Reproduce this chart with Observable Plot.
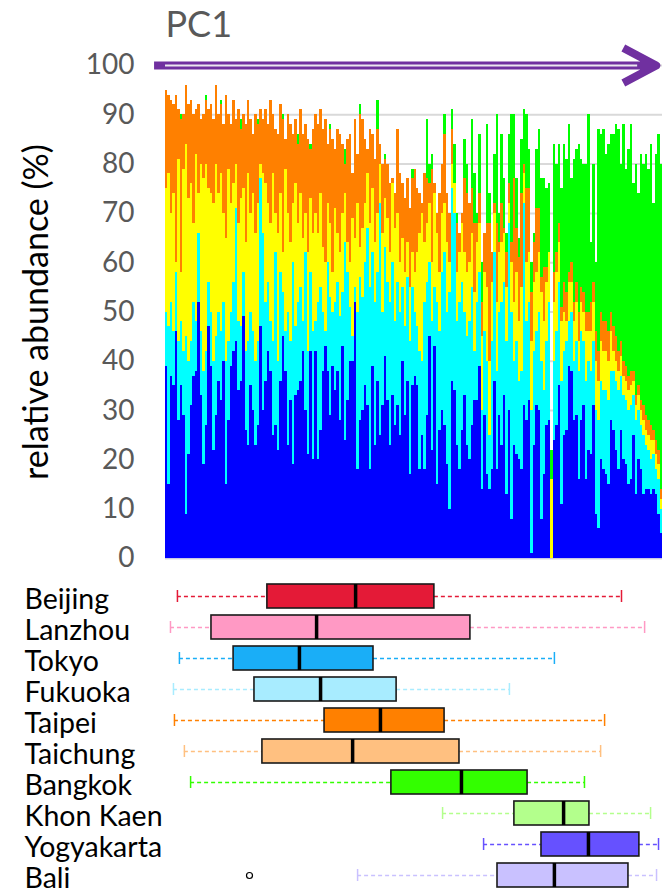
<!DOCTYPE html>
<html>
<head>
<meta charset="utf-8">
<script src="https://cdn.jsdelivr.net/npm/d3@7"></script>
<script src="https://cdn.jsdelivr.net/npm/@observablehq/plot@0.6"></script>
<style>
  body { margin: 0; background: #fff; }
  #chart { width: 664px; }
  #chart svg { display: block; }
</style>
</head>
<body>
<div id="chart"></div>
<script>
// Relative abundance (%) of five sample clusters, samples ordered along PC1.
const cluster1 = [
  39,15,37,35,46,28,35,29,9,21,31,37,38,52,33,19,27,47,39,22,
  29,36,32,40,15,28,39,42,44,34,36,49,26,23,35,30,23,27,47,30,
  36,42,38,25,27,22,36,45,38,23,32,19,33,34,36,42,30,21,42,20,
  42,20,26,38,43,38,29,39,34,38,28,43,24,32,40,40,52,18,28,30,
  35,31,18,39,23,36,25,31,41,32,23,33,27,31,25,40,29,36,17,35,
  37,35,18,25,18,29,45,22,43,15,26,30,27,19,10,36,34,23,18,26,
  33,23,20,27,32,32,39,14,29,17,14,18,36,18,29,23,33,13,30,8,
  23,21,20,18,31,28,32,1,23,31,30,8,17,27,28,0,24,27,35,11,
  25,26,39,38,28,29,16,28,31,16,22,21,31,9,6,20,18,17,15,28,
  26,22,18,26,20,19,15,16,25,13,20,18,13,14,14,13,14,13,9,5
];
const cluster2 = [
  11,32,15,11,12,16,13,13,36,19,13,15,10,14,13,19,15,9,11,18,
  16,14,14,12,25,16,11,14,27,14,11,9,16,21,15,16,17,17,30,36,
  16,14,10,19,35,18,22,9,8,27,12,41,14,18,19,6,32,21,16,26,
  6,32,29,12,3,22,24,11,18,18,21,11,40,26,11,5,3,32,29,23,
  25,36,37,23,29,22,47,19,22,24,29,27,21,25,25,15,18,21,27,20,
  13,12,24,15,34,27,15,26,12,37,20,28,35,31,44,39,36,25,34,30,
  17,22,28,28,10,20,19,16,17,23,11,26,26,20,21,29,23,31,38,42,
  17,23,16,20,41,20,20,29,19,15,20,32,17,17,24,0,16,19,21,25,
  17,18,9,12,12,15,22,18,13,20,18,17,13,21,22,16,16,17,17,10,
  12,14,16,11,13,13,15,15,8,15,10,9,12,9,8,7,7,5,7,5
];
const cluster3 = [
  25,31,18,28,2,37,10,37,39,33,32,16,34,8,34,39,38,19,24,32,
  35,24,32,18,25,35,22,20,9,20,26,17,22,34,20,28,26,28,3,12,
  24,16,20,34,8,26,16,8,33,20,20,12,29,16,19,17,8,20,15,20,
  22,14,19,13,14,12,15,8,19,10,13,16,10,6,9,24,10,22,6,14,
  12,11,13,13,12,12,8,16,10,13,10,16,19,14,10,10,11,7,11,7,
  8,15,24,30,12,12,12,12,19,14,12,12,10,14,6,5,6,10,10,12,
  12,13,12,11,12,12,10,15,12,15,15,12,8,14,12,12,10,11,4,10,
  12,14,12,17,6,12,10,14,14,12,12,14,14,12,10,16,12,12,8,12,
  8,4,8,6,8,8,6,6,6,10,6,8,8,10,8,8,8,8,8,8,
  4,4,4,4,4,4,4,4,3,3,3,3,3,3,3,4,3,3,3,2
];
const cluster4 = [
  20,16,23,18,34,10,31,11,12,19,17,22,9,18,9,13,13,16,18,17,
  16,16,14,18,29,11,16,17,9,23,14,15,24,15,19,12,24,16,11,11,
  15,16,25,12,17,20,18,27,6,20,24,14,13,16,17,21,18,23,10,21,
  20,22,17,24,29,12,19,27,12,21,24,14,6,21,26,9,24,10,27,22,
  13,5,19,11,17,17,4,14,8,11,14,1,7,17,18,11,15,13,16,15,
  21,13,8,2,14,9,4,19,2,4,16,10,14,10,10,7,0,10,4,2,
  15,16,12,9,14,4,6,7,8,13,28,6,2,16,2,8,1,7,4,4,
  25,9,13,19,2,15,13,10,8,13,9,3,11,3,0,0,6,4,4,3,
  6,6,2,4,4,4,6,3,4,4,4,6,4,6,6,6,6,6,6,4,
  5,5,4,3,3,3,3,3,2,2,2,2,3,3,3,3,2,3,3,2
];
const cluster5 = [
  0,0,0,0,0,0,1,0,0,0,0,0,0,0,0,0,1,0,0,0,
  0,0,1,0,0,0,0,0,0,0,2,0,0,0,0,0,0,1,0,0,
  0,0,0,0,0,0,0,1,0,0,0,0,0,2,0,0,0,0,1,0,
  0,0,0,0,0,0,1,0,0,0,0,0,3,0,0,0,0,0,2,0,
  0,0,0,0,0,6,0,0,1,0,0,0,0,0,0,0,0,0,0,2,
  0,0,0,0,0,12,4,3,0,0,0,0,4,0,0,4,8,2,0,0,
  8,6,0,14,10,2,12,8,0,20,6,0,10,22,6,14,10,4,10,26,
  13,10,4,11,11,15,8,6,2,12,16,20,18,16,14,6,26,18,16,24,
  28,27,30,17,29,27,34,26,26,30,40,12,24,14,45,36,39,34,38,36,
  39,43,45,36,48,40,46,50,38,47,39,50,49,53,51,57,46,58,64,66
];
const clusterNames = ["Cluster 1", "Cluster 2", "Cluster 3", "Cluster 4", "Cluster 5"];
const clusterColors = ["#0000ff", "#00ffff", "#ffff00", "#ff8000", "#00ff00"];
const yTicks = [0, 10, 20, 30, 40, 50, 60, 70, 80, 90, 100];

// PC1 rank summaries per city (same axis as the sample order above).
const cities = ["Beijing", "Lanzhou", "Tokyo", "Fukuoka", "Taipei", "Taichung", "Bangkok", "Khon Kaen", "Yogyakarta", "Bali"];
const cityColors = ["#e41a37", "#ff99c4", "#1aaef7", "#a8ecff", "#ff8000", "#ffc080", "#33ff00", "#b3ff8c", "#6651ff", "#c9c1ff"];
const whiskerLow = [4.8, 2.0, 5.6, 3.2, 3.6, 7.6, 10.1, 111.5, 128.0, 77.3];
const quartile1 = [41.0, 18.5, 27.4, 35.8, 64.0, 39.0, 90.9, 140.4, 151.3, 133.6];
const medians = [76.5, 60.8, 53.9, 62.4, 86.5, 75.3, 119.1, 160.2, 170.2, 156.5];
const quartile3 = [108.2, 122.7, 83.7, 93.0, 112.3, 118.3, 145.7, 170.6, 190.7, 186.3];
const whiskerHigh = [183.5, 192.8, 156.5, 138.4, 176.7, 175.1, 168.6, 195.2, 198.4, 197.6];
const outlierCity = ["Bali"];
const outlierRank = [33.8];

const N = cluster1.length;
const clusters = [cluster1, cluster2, cluster3, cluster4, cluster5];
const rows = [];
clusters.forEach((vals, k) => vals.forEach((v, i) => rows.push({sample: i, cluster: clusterNames[k], value: v})));

const font = "Lato, 'Open Sans', sans-serif";

const barChart = Plot.plot({
  width: 664,
  height: 570,
  marginLeft: 165,
  marginRight: 2,
  marginTop: 65,
  marginBottom: 12,
  style: {fontFamily: font, background: "#fff", overflow: "visible"},
  x: {domain: [0, N], axis: null},
  y: {domain: [0, 100], axis: null},
  color: {domain: clusterNames, range: clusterColors},
  marks: [
    Plot.gridY(yTicks, {stroke: "#d9d9d9", strokeOpacity: 1, strokeWidth: 2}),
    Plot.axisY(yTicks, {tickSize: 0, tickPadding: 31, fontSize: 28, color: "#595959", label: null}),
    Plot.rectY(rows, {
      x1: "sample",
      x2: d => d.sample + 1,
      y: "value",
      fill: "cluster",
      order: clusterNames,
      shapeRendering: "crispEdges"
    }),
    Plot.ruleY([0], {stroke: "#c8c8e8", strokeWidth: 1}),
    // PC1 direction arrow
    Plot.arrow([{from: -4.6, to: 197.5, level: 100}], {
      x1: "from", x2: "to", y1: "level", y2: "level",
      stroke: "#7030a0", strokeWidth: 8, headLength: 7, headAngle: 56,
      strokeLinecap: "butt", strokeLinejoin: "round"
    }),
    Plot.ruleY([100], {x1: 0, x2: 190, stroke: "#ece8f0", strokeWidth: 2}),
    Plot.text(["PC1"], {x: 0, y: 100, dy: -40, textAnchor: "start", fontSize: 36, fill: "#595959"}),
    Plot.text(["relative abundance (%)"], {
      frameAnchor: "left", y: 50, dx: -128, rotate: -90,
      textAnchor: "middle", fontSize: 34, fill: "#000"
    })
  ]
});

const stats = cities.map((c, i) => ({
  city: c, color: cityColors[i],
  lo: whiskerLow[i], q1: quartile1[i], med: medians[i], q3: quartile3[i], hi: whiskerHigh[i]
}));
const outliers = outlierCity.map((c, i) => ({city: c, rank: outlierRank[i]}));

const boxChart = Plot.plot({
  width: 664,
  height: 326,
  marginLeft: 165,
  marginRight: 2,
  marginTop: 6,
  marginBottom: 0,
  style: {fontFamily: font, background: "#fff", overflow: "visible"},
  x: {domain: [0, N], axis: null},
  y: {domain: cities, axis: null, padding: 0.22},
  marks: [
    Plot.ruleY(stats, {x1: "lo", x2: "q1", y: "city", stroke: "color", strokeWidth: 1.5, strokeDasharray: "4,3"}),
    Plot.ruleY(stats, {x1: "q3", x2: "hi", y: "city", stroke: "color", strokeWidth: 1.5, strokeDasharray: "4,3"}),
    Plot.tickX(stats, {x: "lo", y: "city", stroke: "color", strokeWidth: 1.5, insetTop: 6, insetBottom: 6}),
    Plot.tickX(stats, {x: "hi", y: "city", stroke: "color", strokeWidth: 1.5, insetTop: 6, insetBottom: 6}),
    Plot.barX(stats, {x1: "q1", x2: "q3", y: "city", fill: "color", stroke: "#1a1a1a", strokeWidth: 1.6}),
    Plot.tickX(stats, {x: "med", y: "city", stroke: "#000", strokeWidth: 3.5}),
    Plot.dot(outliers, {x: "rank", y: "city", r: 3, stroke: "#000", strokeWidth: 1.2, fill: "none"}),
    Plot.text(stats, {text: "city", y: "city", frameAnchor: "left", dx: -141, dy: 3, textAnchor: "start", fontSize: 28.5, fill: "#000"})
  ]
});

document.getElementById("chart").append(barChart, boxChart);
</script>
</body>
</html>
